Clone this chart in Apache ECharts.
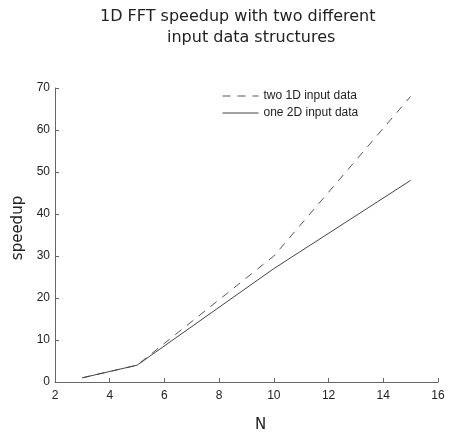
<!DOCTYPE html>
<html>
<head>
<meta charset="utf-8">
<script src="https://cdn.jsdelivr.net/npm/echarts@6/dist/echarts.min.js"></script>
<style>
  html, body { margin: 0; padding: 0; background: #fff; }
  #chart { width: 449px; height: 433px; }
</style>
</head>
<body>
<div id="chart"></div>
<script>
var N = [3, 5, 10, 15];
var twoInputs = [1, 4, 30, 68];
var oneInput = [1, 4, 27, 48];
var xTicks = [2, 4, 6, 8, 10, 12, 14, 16];
var yTicks = [0, 10, 20, 30, 40, 50, 60, 70];

function pairs(xs, ys) {
    var out = [];
    for (var i = 0; i < xs.length; i++) {
        out.push([xs[i], ys[i]]);
    }
    return out;
}

var chart = echarts.init(document.getElementById('chart'));
var labelStyle = { color: '#222', fontFamily: 'Liberation Sans', fontSize: 12 };
var titleFont = { fontFamily: 'DejaVu Sans', fontSize: 16, fontWeight: 'normal', color: '#222' };

var option = {
    animation: false,
    title: [{
        text: '1D FFT speedup with two different',
        left: 95, top: 4,
        textStyle: titleFont
    }, {
        text: 'input data structures',
        left: 162, top: 25,
        textStyle: titleFont
    }],
    legend: {
        orient: 'vertical',
        left: 222, top: 90,
        padding: 0,
        itemWidth: 36, itemHeight: 10, itemGap: 5,
        itemStyle: { opacity: 0 },
        lineStyle: { width: 1 },
        textStyle: { color: '#222', fontFamily: 'Liberation Sans', fontSize: 12 },
        data: ['two 1D input data', 'one 2D input data']
    },
    grid: { left: 55, right: 11, top: 88, bottom: 51, outerBoundsMode: 'none' },
    xAxis: {
        type: 'value',
        min: xTicks[0], max: xTicks[xTicks.length - 1], interval: 2,
        name: 'N',
        nameLocation: 'middle',
        nameGap: 36,
        nameTextStyle: { fontFamily: 'DejaVu Sans', fontSize: 15, color: '#222', padding: [0, 0, 0, 28] },
        axisLine: { show: true, lineStyle: { color: '#666', width: 1 } },
        axisTick: { show: true, inside: true, length: 4, lineStyle: { color: '#666' } },
        axisLabel: labelStyle,
        splitLine: { show: false }
    },
    yAxis: {
        type: 'value',
        min: yTicks[0], max: yTicks[yTicks.length - 1], interval: 10,
        name: 'speedup',
        nameLocation: 'middle',
        nameGap: 27,
        nameTextStyle: { fontFamily: 'DejaVu Sans', fontSize: 15, color: '#222', padding: [0, 0, 0, 14] },
        axisLine: { show: true, lineStyle: { color: '#666', width: 1 } },
        axisTick: { show: true, inside: true, length: 4, lineStyle: { color: '#666' } },
        axisLabel: Object.assign({ margin: 5 }, labelStyle),
        splitLine: { show: false }
    },
    series: [{
        name: 'two 1D input data',
        type: 'line',
        symbol: 'none',
        data: pairs(N, twoInputs),
        lineStyle: { color: '#555', width: 1, type: [8, 7] },
        itemStyle: { color: '#555' }
    }, {
        name: 'one 2D input data',
        type: 'line',
        symbol: 'none',
        data: pairs(N, oneInput),
        lineStyle: { color: '#444', width: 1 },
        itemStyle: { color: '#444' }
    }]
};

chart.setOption(option);
</script>
</body>
</html>
